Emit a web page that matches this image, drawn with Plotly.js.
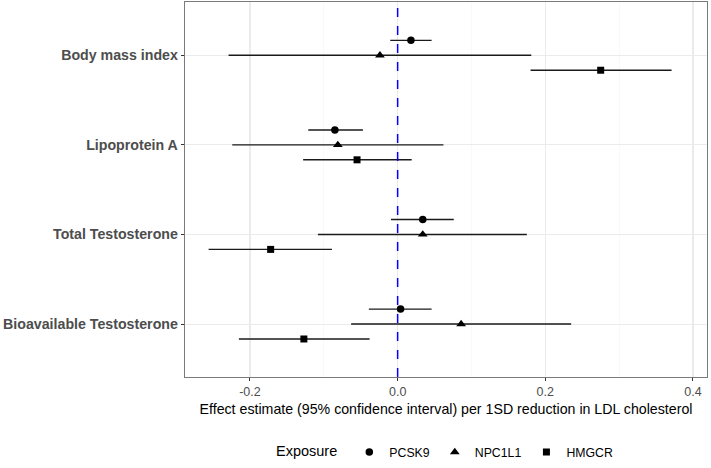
<!DOCTYPE html>
<html>
<head>
<meta charset="utf-8">
<script src="https://cdn.plot.ly/plotly-3.0.1.min.js"></script>
<style>html,body{margin:0;padding:0;background:#fff;}#chart{width:711px;height:468px;}</style>
</head>
<body>
<div id="chart"></div>
<script>
// Outcomes (top to bottom)
const outcomes = ["Body mass index", "Lipoprotein A", "Total Testosterone", "Bioavailable Testosterone"];
const exposures = ["PCSK9", "NPC1L1", "HMGCR"];

// Estimates and 95% CI per exposure, ordered as outcomes
const pcsk9Est = [0.018, -0.085, 0.034, 0.004];
const pcsk9Lo  = [-0.010, -0.121, -0.009, -0.039];
const pcsk9Hi  = [0.046, -0.047, 0.076, 0.046];

const npc1l1Est = [-0.024, -0.081, 0.034, 0.086];
const npc1l1Lo  = [-0.229, -0.224, -0.108, -0.063];
const npc1l1Hi  = [0.181, 0.062, 0.175, 0.235];

const hmgcrEst = [0.275, -0.055, -0.172, -0.127];
const hmgcrLo  = [0.180, -0.128, -0.256, -0.215];
const hmgcrHi  = [0.371, 0.019, -0.089, -0.038];

const xTicks = [-0.2, 0, 0.2, 0.4];
const xTickLabels = ["-0.2", "0.0", "0.2", "0.4"];

const series = [
  {name: exposures[0], est: pcsk9Est, lo: pcsk9Lo, hi: pcsk9Hi, symbol: "circle", size: 7.5, dodge: 1/6},
  {name: exposures[1], est: npc1l1Est, lo: npc1l1Lo, hi: npc1l1Hi, symbol: "triangle-up", size: 8.5, dodge: 0},
  {name: exposures[2], est: hmgcrEst, lo: hmgcrLo, hi: hmgcrHi, symbol: "square", size: 7, dodge: -1/6}
];

const n = outcomes.length;
const catPos = outcomes.map((_, i) => n - i);

const traces = series.map(s => ({
  type: "scatter",
  mode: "markers",
  name: s.name,
  x: s.est,
  y: catPos.map(p => p + s.dodge),
  marker: {symbol: s.symbol, size: s.size, color: "#000000"},
  error_x: {
    type: "data", symmetric: false,
    array: s.est.map((v, i) => s.hi[i] - v),
    arrayminus: s.est.map((v, i) => v - s.lo[i]),
    width: 0, thickness: 1.4, color: "#1a1a1a"
  },
  hoverinfo: "x+name"
}));

const layout = {
  width: 711, height: 468,
  margin: {l: 185, r: 4, t: 2, b: 86},
  paper_bgcolor: "#ffffff",
  plot_bgcolor: "#ffffff",
  font: {family: "Liberation Sans, Arial, sans-serif", color: "#000000"},
  showlegend: true,
  legend: {
    orientation: "h", x: 0.5, xanchor: "center", y: -0.2, yanchor: "middle",
    title: {text: "Exposure ", font: {size: 14.5, color: "#000"}, side: "left"},
    font: {size: 12.3, color: "#000"},
    itemwidth: 30
  },
  xaxis: {
    range: [-0.288, 0.419],
    tickvals: xTicks,
    ticktext: xTickLabels,
    tickfont: {size: 12.5, color: "#4d4d4d"},
    ticks: "outside", ticklen: 3, tickcolor: "#333333", tickwidth: 1,
    showgrid: true, gridcolor: "#ebebeb", gridwidth: 1.1,
    minor: {tickvals: [-0.1, 0.1, 0.3], showgrid: true, gridcolor: "#f5f5f5", gridwidth: 0.6, ticks: ""},
    zeroline: false, automargin: false,
    showline: true, mirror: true, linecolor: "#7a7a7a", linewidth: 1.3,
    title: {text: "Effect estimate (95% confidence interval) per 1SD reduction in LDL cholesterol", font: {size: 14.2, color: "#000"}, standoff: 5}
  },
  yaxis: {
    range: [0.409, 4.595],
    tickvals: catPos,
    ticktext: outcomes,
    tickfont: {size: 14.2, color: "#4d4d4d", weight: "bold"},
    ticks: "outside", ticklen: 3, tickcolor: "#333333", tickwidth: 1,
    showgrid: true, gridcolor: "#ebebeb", gridwidth: 1.1,
    zeroline: false, automargin: false,
    showline: true, mirror: true, linecolor: "#7a7a7a", linewidth: 1.3
  },
  shapes: [{
    type: "line", xref: "x", yref: "paper", x0: 0, x1: 0, y0: 0, y1: 1,
    line: {color: "#0000ff", width: 1.5, dash: "dash"}
  }]
};

Plotly.newPlot("chart", traces, layout, {displayModeBar: false, staticPlot: true});
</script>
</body>
</html>
